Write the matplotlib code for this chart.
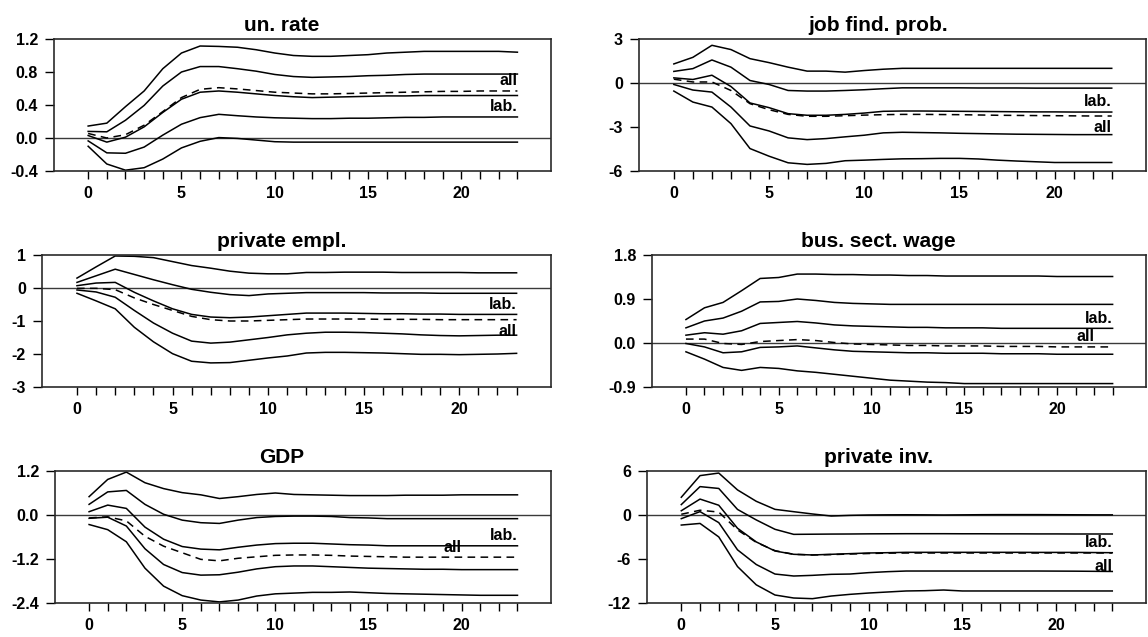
import matplotlib
matplotlib.use('Agg')
import matplotlib.pyplot as plt
from matplotlib.ticker import FixedLocator, FormatStrFormatter

plt.rcParams['font.family'] = ['Liberation Sans', 'DejaVu Sans']
plt.rcParams['font.weight'] = 'bold'
plt.rcParams['axes.unicode_minus'] = False

# horizon (quarters)
steps = list(range(24))

# --- un. rate: five solid bands (top to bottom) + dashed point response
un_rate_bands = [
    [0.145, 0.18, 0.38, 0.57, 0.84, 1.03, 1.115, 1.11, 1.10, 1.07, 1.03, 1.00, 0.99, 0.99, 1.00, 1.01, 1.03, 1.04, 1.05, 1.05, 1.05, 1.05, 1.05, 1.04],
    [0.08, 0.075, 0.215, 0.395, 0.63, 0.80, 0.866, 0.866, 0.84, 0.81, 0.77, 0.745, 0.735, 0.74, 0.745, 0.755, 0.76, 0.77, 0.775, 0.775, 0.775, 0.775, 0.775, 0.775],
    [0.03, -0.05, 0.01, 0.135, 0.31, 0.47, 0.555, 0.57, 0.555, 0.535, 0.515, 0.50, 0.49, 0.495, 0.50, 0.505, 0.51, 0.51, 0.515, 0.515, 0.515, 0.515, 0.515, 0.515],
    [-0.035, -0.18, -0.185, -0.11, 0.035, 0.167, 0.247, 0.287, 0.27, 0.255, 0.245, 0.24, 0.235, 0.235, 0.24, 0.24, 0.245, 0.25, 0.25, 0.255, 0.255, 0.255, 0.255, 0.255],
    [-0.10, -0.315, -0.39, -0.36, -0.255, -0.12, -0.04, 0.005, -0.005, -0.025, -0.045, -0.05, -0.05, -0.05, -0.05, -0.05, -0.05, -0.05, -0.05, -0.05, -0.05, -0.05, -0.05, -0.05],
]
un_rate_point = [0.055, 0.0, 0.04, 0.155, 0.32, 0.49, 0.59, 0.61, 0.595, 0.575, 0.555, 0.545, 0.535, 0.535, 0.54, 0.545, 0.55, 0.555, 0.56, 0.565, 0.565, 0.57, 0.57, 0.57]

# --- job find. prob.
job_find_bands = [
    [1.30, 1.75, 2.57, 2.28, 1.66, 1.39, 1.08, 0.81, 0.81, 0.74, 0.85, 0.94, 1.00, 1.00, 1.00, 1.00, 1.00, 1.00, 1.00, 1.00, 1.00, 1.00, 1.00, 1.00],
    [0.79, 0.98, 1.57, 1.08, 0.17, -0.10, -0.51, -0.55, -0.55, -0.51, -0.46, -0.39, -0.33, -0.33, -0.33, -0.33, -0.34, -0.34, -0.34, -0.35, -0.35, -0.35, -0.35, -0.35],
    [0.35, 0.24, 0.53, -0.24, -1.36, -1.68, -2.09, -2.20, -2.20, -2.14, -2.05, -1.93, -1.91, -1.91, -1.92, -1.93, -1.94, -1.95, -1.96, -1.97, -1.97, -1.98, -1.98, -1.98],
    [-0.10, -0.48, -0.62, -1.64, -2.93, -3.27, -3.74, -3.86, -3.79, -3.67, -3.56, -3.40, -3.36, -3.38, -3.40, -3.43, -3.45, -3.47, -3.49, -3.50, -3.51, -3.52, -3.52, -3.52],
    [-0.55, -1.30, -1.64, -2.77, -4.47, -4.99, -5.44, -5.55, -5.48, -5.30, -5.26, -5.21, -5.17, -5.16, -5.14, -5.14, -5.18, -5.26, -5.32, -5.37, -5.42, -5.42, -5.42, -5.42],
]
job_find_point = [0.26, 0.07, 0.07, -0.51, -1.41, -1.82, -2.14, -2.27, -2.27, -2.23, -2.19, -2.16, -2.14, -2.14, -2.15, -2.16, -2.18, -2.20, -2.21, -2.22, -2.23, -2.24, -2.25, -2.25]

# --- private empl.
priv_empl_bands = [
    [0.30, 0.64, 0.97, 0.96, 0.92, 0.80, 0.68, 0.60, 0.51, 0.45, 0.43, 0.43, 0.47, 0.47, 0.48, 0.48, 0.48, 0.47, 0.47, 0.47, 0.47, 0.46, 0.46, 0.46],
    [0.17, 0.37, 0.57, 0.41, 0.25, 0.10, -0.04, -0.13, -0.20, -0.23, -0.18, -0.16, -0.14, -0.14, -0.14, -0.14, -0.15, -0.15, -0.15, -0.16, -0.16, -0.16, -0.16, -0.16],
    [0.07, 0.15, 0.17, -0.13, -0.39, -0.63, -0.80, -0.88, -0.90, -0.88, -0.84, -0.80, -0.76, -0.76, -0.76, -0.77, -0.78, -0.78, -0.79, -0.79, -0.80, -0.80, -0.80, -0.80],
    [-0.06, -0.12, -0.28, -0.68, -1.06, -1.37, -1.61, -1.67, -1.64, -1.57, -1.50, -1.42, -1.37, -1.34, -1.34, -1.35, -1.37, -1.39, -1.42, -1.44, -1.45, -1.44, -1.43, -1.43],
    [-0.16, -0.39, -0.63, -1.19, -1.63, -1.99, -2.22, -2.27, -2.26, -2.19, -2.12, -2.06, -1.97, -1.95, -1.95, -1.96, -1.97, -1.99, -2.01, -2.01, -2.02, -2.01, -2.00, -1.98],
]
priv_empl_point = [-0.01, -0.01, -0.05, -0.30, -0.50, -0.68, -0.86, -0.96, -1.00, -1.00, -0.98, -0.96, -0.94, -0.94, -0.94, -0.94, -0.95, -0.95, -0.95, -0.96, -0.96, -0.96, -0.96, -0.96]

# --- bus. sect. wage
wage_bands = [
    [0.48, 0.72, 0.83, 1.07, 1.32, 1.34, 1.41, 1.41, 1.40, 1.40, 1.39, 1.39, 1.38, 1.38, 1.37, 1.37, 1.37, 1.37, 1.37, 1.37, 1.36, 1.36, 1.36, 1.36],
    [0.31, 0.45, 0.51, 0.65, 0.84, 0.85, 0.90, 0.87, 0.83, 0.81, 0.80, 0.79, 0.79, 0.79, 0.79, 0.79, 0.79, 0.79, 0.79, 0.79, 0.79, 0.79, 0.79, 0.79],
    [0.16, 0.21, 0.18, 0.25, 0.40, 0.42, 0.44, 0.41, 0.37, 0.35, 0.34, 0.33, 0.32, 0.32, 0.31, 0.31, 0.31, 0.30, 0.30, 0.30, 0.30, 0.30, 0.30, 0.30],
    [-0.01, -0.08, -0.20, -0.18, -0.09, -0.08, -0.06, -0.10, -0.14, -0.17, -0.18, -0.19, -0.20, -0.20, -0.21, -0.21, -0.21, -0.22, -0.22, -0.22, -0.23, -0.23, -0.23, -0.23],
    [-0.18, -0.33, -0.50, -0.56, -0.50, -0.52, -0.57, -0.60, -0.64, -0.68, -0.72, -0.76, -0.78, -0.80, -0.81, -0.83, -0.83, -0.83, -0.83, -0.83, -0.83, -0.83, -0.83, -0.83],
]
wage_point = [0.08, 0.08, -0.01, -0.03, 0.03, 0.05, 0.07, 0.05, 0.01, -0.02, -0.03, -0.04, -0.05, -0.05, -0.06, -0.06, -0.06, -0.07, -0.07, -0.07, -0.08, -0.08, -0.08, -0.08]

# --- GDP
gdp_bands = [
    [0.50, 0.97, 1.17, 0.88, 0.72, 0.61, 0.55, 0.45, 0.50, 0.56, 0.60, 0.56, 0.55, 0.54, 0.53, 0.53, 0.53, 0.54, 0.54, 0.54, 0.55, 0.55, 0.55, 0.55],
    [0.29, 0.63, 0.67, 0.29, 0.02, -0.14, -0.21, -0.23, -0.14, -0.07, -0.04, -0.03, -0.03, -0.04, -0.07, -0.08, -0.10, -0.10, -0.10, -0.10, -0.10, -0.10, -0.10, -0.10],
    [0.09, 0.27, 0.18, -0.33, -0.66, -0.86, -0.93, -0.95, -0.88, -0.82, -0.78, -0.77, -0.77, -0.79, -0.81, -0.82, -0.84, -0.84, -0.84, -0.84, -0.84, -0.84, -0.84, -0.84],
    [-0.09, -0.06, -0.30, -0.92, -1.35, -1.57, -1.64, -1.63, -1.56, -1.47, -1.41, -1.39, -1.39, -1.41, -1.43, -1.45, -1.46, -1.47, -1.48, -1.48, -1.49, -1.49, -1.49, -1.49],
    [-0.26, -0.40, -0.73, -1.45, -1.94, -2.20, -2.32, -2.37, -2.32, -2.21, -2.15, -2.13, -2.11, -2.11, -2.10, -2.12, -2.14, -2.15, -2.16, -2.17, -2.18, -2.19, -2.19, -2.19],
]
gdp_point = [-0.08, -0.05, -0.16, -0.58, -0.85, -1.03, -1.21, -1.25, -1.18, -1.14, -1.10, -1.09, -1.09, -1.10, -1.12, -1.13, -1.14, -1.15, -1.15, -1.15, -1.15, -1.15, -1.15, -1.15]

# --- private inv.
inv_bands = [
    [2.42, 5.37, 5.72, 3.42, 1.87, 0.77, 0.45, 0.14, -0.14, -0.05, 0.0, 0.02, 0.03, 0.02, 0.0, 0.02, 0.04, 0.05, 0.05, 0.05, 0.04, 0.03, 0.02, 0.02],
    [1.42, 3.87, 3.62, 0.76, -0.67, -1.95, -2.64, -2.62, -2.60, -2.59, -2.57, -2.56, -2.55, -2.55, -2.55, -2.56, -2.56, -2.57, -2.57, -2.58, -2.58, -2.59, -2.59, -2.59],
    [0.58, 2.17, 1.33, -1.81, -3.67, -4.91, -5.36, -5.45, -5.36, -5.27, -5.18, -5.14, -5.09, -5.09, -5.09, -5.09, -5.09, -5.09, -5.09, -5.10, -5.10, -5.10, -5.12, -5.14],
    [-0.50, 0.46, -1.04, -4.75, -6.75, -8.05, -8.32, -8.23, -8.09, -8.05, -7.86, -7.73, -7.64, -7.64, -7.64, -7.64, -7.64, -7.64, -7.64, -7.64, -7.65, -7.66, -7.68, -7.70],
    [-1.37, -1.15, -2.99, -7.03, -9.52, -10.91, -11.32, -11.41, -11.05, -10.82, -10.64, -10.50, -10.36, -10.32, -10.23, -10.36, -10.36, -10.36, -10.36, -10.36, -10.36, -10.36, -10.36, -10.36],
]
inv_point = [0.10, 0.65, 0.40, -2.03, -3.73, -4.86, -5.36, -5.45, -5.40, -5.32, -5.25, -5.20, -5.18, -5.18, -5.18, -5.18, -5.18, -5.18, -5.18, -5.18, -5.18, -5.18, -5.18, -5.18]

titles = ['un. rate', 'job find. prob.', 'private empl.', 'bus. sect. wage', 'GDP', 'private inv.']
y_ticks = [
    [-0.4, 0.0, 0.4, 0.8, 1.2],
    [-6, -3, 0, 3],
    [-3, -2, -1, 0, 1],
    [-0.9, 0.0, 0.9, 1.8],
    [-2.4, -1.2, 0.0, 1.2],
    [-12, -6, 0, 6],
]
tick_fmt = ['%.1f', '%d', '%d', '%.1f', '%.1f', '%d']
band_sets = [un_rate_bands, job_find_bands, priv_empl_bands, wage_bands, gdp_bands, inv_bands]
point_sets = [un_rate_point, job_find_point, priv_empl_point, wage_point, gdp_point, inv_point]

# "lab." / "all" annotations: (text, right edge x, baseline y)
notes = [
    [('all', 23, 0.64), ('lab.', 23, 0.325)],
    [('lab.', 23, -1.59), ('all', 23, -3.33)],
    [('lab.', 23, -0.64), ('all', 23, -1.45)],
    [('lab.', 23, 0.41), ('all', 22, 0.04)],
    [('lab.', 23, -0.68), ('all', 20, -1.01)],
    [('lab.', 23, -4.41), ('all', 23, -7.59)],
]

# panel boxes in pixels: left, right, top, bottom ; title centre x
W, H = 1148, 637
boxes = [
    (54, 551, 39, 171, 282), (639, 1146, 39, 171, 878),
    (42, 551, 255, 387, 282), (652, 1146, 255, 387, 878),
    (55, 551, 471, 603, 282), (647, 1146, 471, 603, 878),
]

fig = plt.figure(figsize=(W / 100, H / 100), dpi=100)

for k in range(6):
    l, r, t, b, cx = boxes[k]
    ax = fig.add_axes([l / W, 1 - b / H, (r - l) / W, (b - t) / H])
    ax.axhline(0, color='#3a3a3a', lw=1.0, zorder=1)
    for band in band_sets[k]:
        ax.plot(steps, band, '-', color='black', lw=1.1, zorder=2)
    ax.plot(steps, point_sets[k], color='black', lw=1.1, linestyle=(0, (5, 3.5)), zorder=2)

    ax.set_xlim(-1.83, 24.8)
    ax.set_ylim(y_ticks[k][0], y_ticks[k][-1])
    ax.xaxis.set_major_locator(FixedLocator([0, 5, 10, 15, 20]))
    ax.xaxis.set_minor_locator(FixedLocator(steps))
    ax.set_yticks(y_ticks[k])
    ax.yaxis.set_major_formatter(FormatStrFormatter(tick_fmt[k]))
    ax.tick_params(axis='both', which='both', direction='out', length=6, width=1.0,
                   labelsize=11.5, pad=4.5, colors='black')
    ax.tick_params(axis='y', length=6.5, pad=5)
    for lab in ax.get_xticklabels() + ax.get_yticklabels():
        lab.set_fontweight('bold')
    for s in ax.spines.values():
        s.set_linewidth(1.2)
        s.set_color('#2a2a2a')

    for txt, xr, yb in notes[k]:
        ax.text(xr, yb, txt, ha='right', va='baseline', fontsize=11.5, fontweight='bold', zorder=3)

    ax.set_title(titles[k], x=(cx - l) / (r - l), pad=6, fontsize=15, fontweight='bold')

fig.savefig('out.png', dpi=100)
